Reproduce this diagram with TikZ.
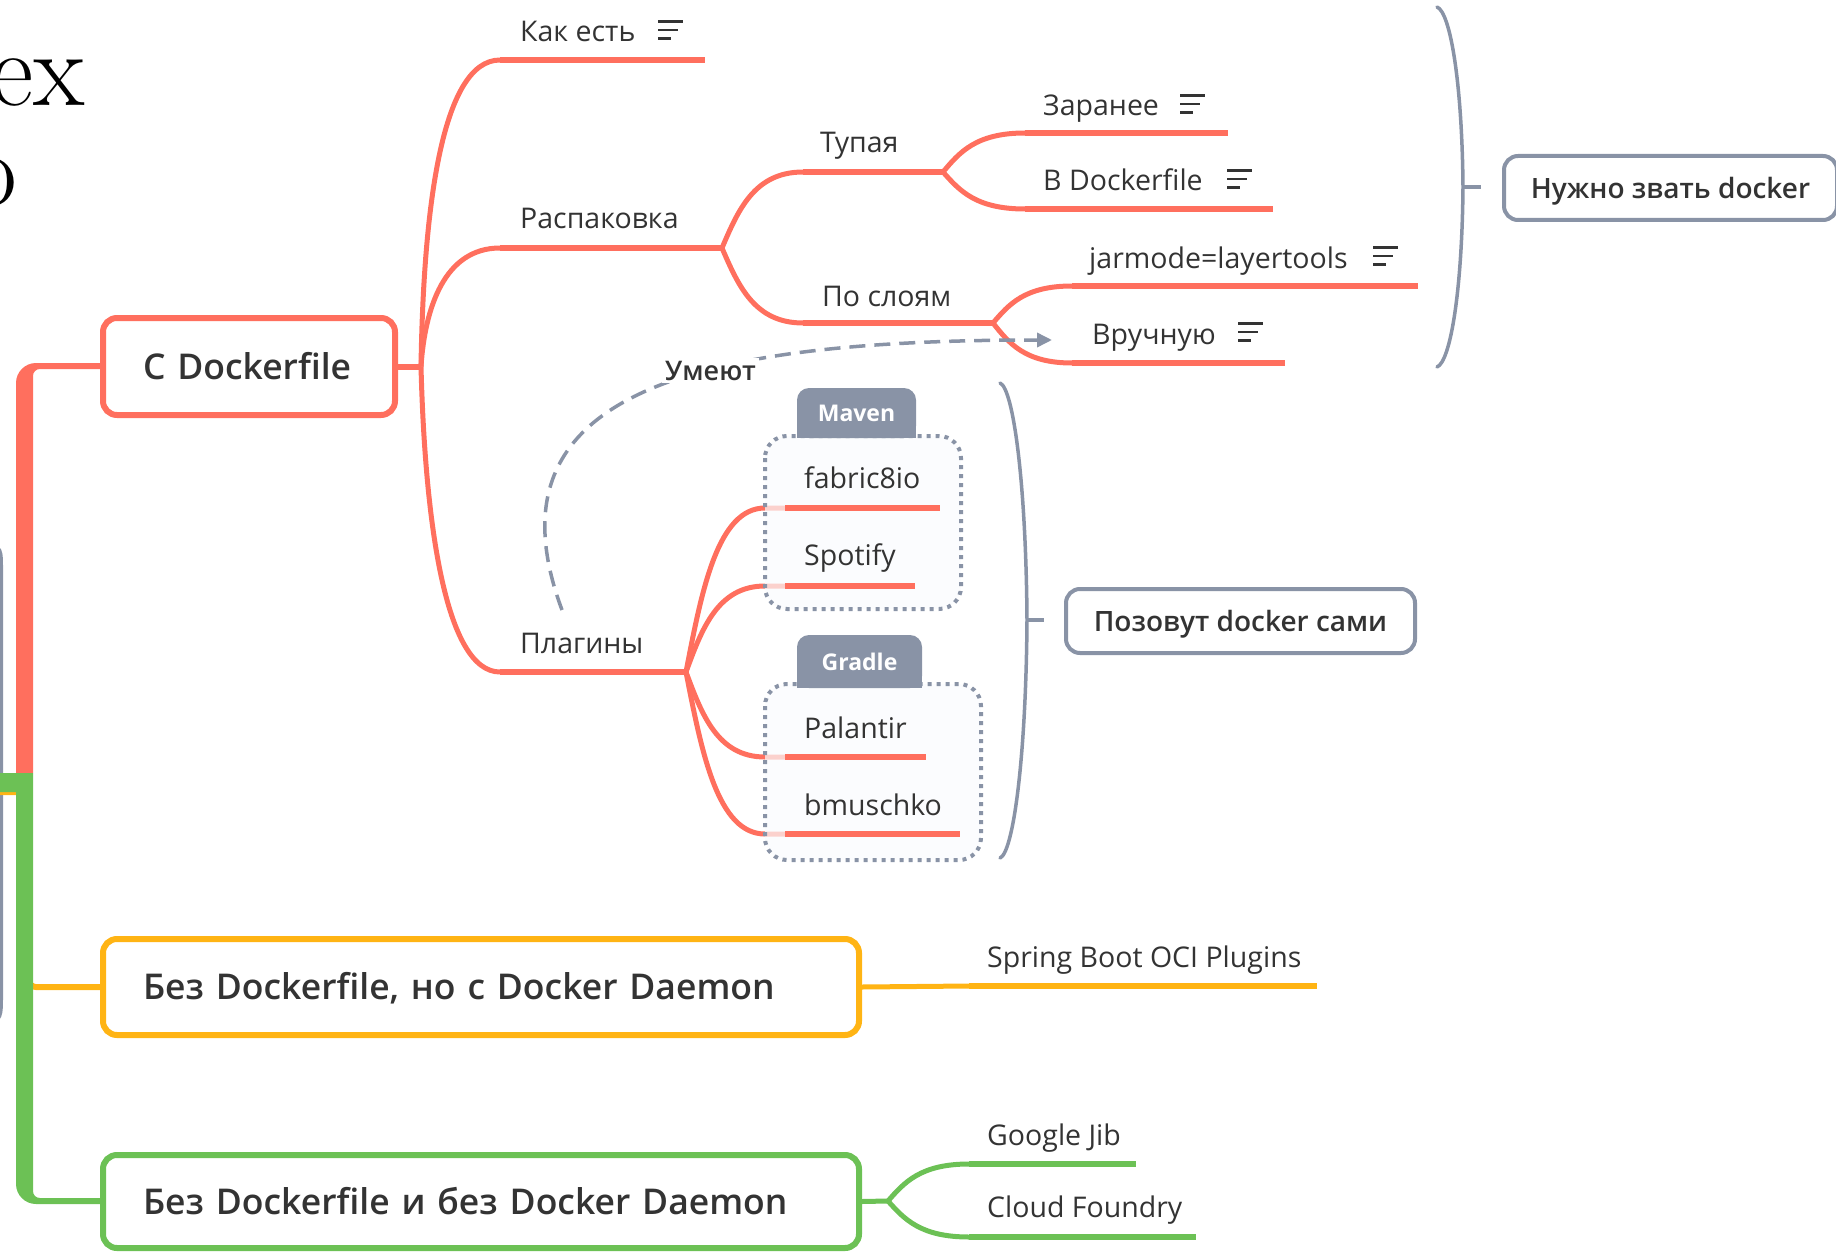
\documentclass[tikz,border=0pt]{standalone}
\usepackage{fontspec}
\newfontfamily\os{Open Sans}
\IfFontExistsTF{Open Sans SemiBold}
  {\newfontfamily\sbf{Open Sans SemiBold}\newcommand\bigsz{35.5}\newcommand\midsz{28}}
  {\IfFontExistsTF{Open Sans Semibold}
    {\newfontfamily\sbf{Open Sans Semibold}\newcommand\bigsz{35.5}\newcommand\midsz{28}}
    {\newcommand\sbf{\os\bfseries}\newcommand\bigsz{34}\newcommand\midsz{27}}}
\usetikzlibrary{arrows.meta,calc}
\definecolor{cred}{RGB}{255,111,94}
\definecolor{cyel}{RGB}{255,180,20}
\definecolor{cgrn}{RGB}{108,193,85}
\definecolor{cgray}{RGB}{137,147,166}
\definecolor{ctxt}{RGB}{51,51,51}
\definecolor{cfill}{RGB}{250,251,253}
\begin{document}
\begin{tikzpicture}[x=1pt,y=-1pt,
  every node/.style={font=\os\fontsize{28.5}{34}\selectfont, text=ctxt, inner sep=0pt},
  lbl/.style={anchor=base west},
  br/.style 2 args={to path={let \p1=(\tikztostart), \p2=(\tikztotarget) in
     .. controls ({\x1+#1*(\x2-\x1)},{\y1+0.5*(\y2-\y1)}) and ({\x1+#2*(\x2-\x1)},{\y2}) .. (\tikztotarget)}},
  conn/.style={draw=#1, line width=5},
  uline/.style={draw=#1, line width=6.5},
  bigbox/.style={draw=#1, line width=6, rounded corners=14, fill=white, inner xsep=40, inner ysep=0pt, align=left, text height=25, text depth=0, font=\sbf\fontsize{\bigsz}{42}\selectfont},
  graybox/.style={draw=cgray, line width=4, rounded corners=14, fill=white, minimum height=64, text height=21, text depth=0, font=\sbf\fontsize{\midsz}{34}\selectfont},
  noteline/.style={draw=ctxt, line width=2.6},
  noteic/.pic={\path[noteline] (0,0)--(25,0) (0,8.5)--(20,8.5) (0,17)--(13,17);},
  bracel/.style={draw=cgray, line width=3.5, line cap=round},
  grp/.style={draw=cgray, line width=4, dash pattern=on 4pt off 5pt, rounded corners=22, fill=cfill, fill opacity=.7},
  tabn/.style={fill=cgray, rounded corners=12, text=white, font=\os\bfseries\fontsize{23}{26}\selectfont},
]
\useasboundingbox (0,0) rectangle (1836,1252);
\clip (0,0) rectangle (1836,1252);

% fragments of the slide behind
\node[font=\rmfamily\fontsize{106}{120}\selectfont, text=black, anchor=base east] (frA) at (85,106) {ex};
\node[font=\rmfamily\fontsize{106}{120}\selectfont, text=black, anchor=base east] (frB) at (17,206) {o};

% left grey line
\draw[bracel, line width=3] (-2,548) .. controls (1,550) and (1.5,556) .. (1.5,565) -- (1.5,1000) .. controls (1.5,1010) and (1,1016) .. (-2,1019);

% trunks
\draw[cyel, line width=6] (0,792) -- (29,792) -- (29,980) .. controls (29,984) and (32,987) .. (36,987) -- (104,987);
\fill[cred] (16,773) -- (16,383) .. controls (16,372) and (25,363) .. (36,363) -- (104,363) -- (104,369) -- (40,369) .. controls (36,369) and (33,372) .. (33,376) -- (33,773) -- cycle;
\fill[cgrn] (0,773) -- (33,773) -- (33,1191) .. controls (33,1195) and (36,1198) .. (40,1198) -- (104,1198) -- (104,1204) -- (36,1204) .. controls (25,1204) and (16,1195) .. (16,1184) -- (16,792) -- (0,792) -- cycle;

% main boxes
\node[bigbox=cred, text width=212, minimum height=97, anchor=west] (cdf) at (100,366.5) {С Dockerfile};
\node[bigbox=cyel, text width=676, minimum height=96, anchor=west] (cy) at (100,987) {Без Dockerfile, но с Docker Daemon};
\node[bigbox=cgrn, text width=676, minimum height=93, anchor=west] (cg) at (100,1201.5) {Без Dockerfile и без Docker Daemon};

% coordinates
\coordinate (j0) at (421,366.5);
\coordinate (j1) at (722,248);
\coordinate (j2) at (943,172);
\coordinate (j3) at (686,672);
\coordinate (j4) at (993,323);
\coordinate (jg) at (888,1201);
\coordinate (ukA) at (500,60);   \coordinate (ukB) at (705,60);
\coordinate (urA) at (500,248);
\coordinate (upA) at (500,672);
\coordinate (utA) at (803,172);
\coordinate (usA) at (803,323);
\coordinate (uzA) at (1025,133);  \coordinate (uzB) at (1228,133);
\coordinate (udA) at (1025,209);  \coordinate (udB) at (1273,209);
\coordinate (ujA) at (1072,286);  \coordinate (ujB) at (1418,286);
\coordinate (uvA) at (1072,363);  \coordinate (uvB) at (1285,363);
\coordinate (cf1) at (765,508); \coordinate (uf1) at (785,508); \coordinate (uf2) at (940,508);
\coordinate (cs1) at (765,586); \coordinate (us1) at (785,586); \coordinate (us2) at (915,586);
\coordinate (cp1) at (765,757); \coordinate (up1) at (785,757); \coordinate (up2) at (926,757);
\coordinate (cb1) at (765,834); \coordinate (ub1) at (785,834); \coordinate (ub2) at (960,834);
\coordinate (uy1) at (969,986);  \coordinate (uy2) at (1317,986);
\coordinate (ug1) at (969,1164); \coordinate (ug2) at (1136,1164);
\coordinate (uc1) at (969,1237); \coordinate (uc2) at (1196,1237);

% red connectors
\draw[conn=cred, line width=6] (cdf.east) -- (j0);
\draw[conn=cred] (j0) to[br={0.03}{0.25}] (ukA);
\draw[conn=cred] (j0) to[br={0.05}{0.3}] (urA);
\draw[conn=cred] (j0) to[br={0.05}{0.3}] (upA);
\draw[conn=cred] (j1) to[br={0.2}{0.4}] (utA);
\draw[conn=cred] (j1) to[br={0.2}{0.4}] (usA);
\draw[conn=cred] (j2) to[br={0.2}{0.4}] (uzA);
\draw[conn=cred] (j2) to[br={0.2}{0.4}] (udA);
\draw[conn=cred] (j4) to[br={0.2}{0.4}] (ujA);
\draw[conn=cred] (j4) to[br={0.2}{0.4}] (uvA);
\draw[conn=cred] (j3) to[br={0.2}{0.4}] (cf1) -- (uf1);
\draw[conn=cred] (j3) to[br={0.2}{0.4}] (cs1) -- (us1);
\draw[conn=cred] (j3) to[br={0.2}{0.4}] (cp1) -- (up1);
\draw[conn=cred] (j3) to[br={0.2}{0.4}] (cb1) -- (ub1);
% yellow / green connectors
\draw[conn=cyel] (cy.east) -- (uy1);
\draw[conn=cgrn] (cg.east) -- (jg);
\draw[conn=cgrn] (jg) to[br={0.2}{0.4}] (ug1);
\draw[conn=cgrn] (jg) to[br={0.2}{0.4}] (uc1);

% groups
\path[grp] (765,436) rectangle (961,609);
\path[grp] (765,684) rectangle (981,860);
\fill[cgray] (797,413) rectangle (916,438);
\node[tabn, minimum width=119, minimum height=50] (mvn) at (856.5,413) {Maven};
\fill[cgray] (797,661) rectangle (922,688);
\node[tabn, minimum width=125, minimum height=53] (grd) at (859.5,661.5) {Gradle};

% underlines
\draw[uline=cred] (ukA) -- (ukB);
\draw[uline=cred] (urA) -- (j1);
\draw[uline=cred] (upA) -- (j3);
\draw[uline=cred] (utA) -- (j2);
\draw[uline=cred] (usA) -- (j4);
\draw[uline=cred] (uzA) -- (uzB);
\draw[uline=cred] (udA) -- (udB);
\draw[uline=cred] (ujA) -- (ujB);
\draw[uline=cred] (uvA) -- (uvB);
\draw[uline=cred] (uf1) -- (uf2);
\draw[uline=cred] (us1) -- (us2);
\draw[uline=cred] (up1) -- (up2);
\draw[uline=cred] (ub1) -- (ub2);
\draw[uline=cyel] (uy1) -- (uy2);
\draw[uline=cgrn] (ug1) -- (ug2);
\draw[uline=cgrn] (uc1) -- (uc2);

% topic texts
\node[lbl] (tk) at (520,42) {Как есть};
\node[lbl] (tr) at (520,229) {Распаковка};
\node[lbl] (tp) at (520,653) {Плагины};
\node[lbl] (tt) at (820,153) {Тупая};
\node[lbl] (ts) at (822,306) {По слоям};
\node[lbl] (tz) at (1043,116) {Заранее};
\node[lbl] (td) at (1043,191) {В Dockerfile};
\node[lbl] (tj) at (1089,268) {jarmode=layertools};
\node[lbl] (tv) at (1092,344) {Вручную};
\node[lbl] (tf) at (804,488) {fabric8io};
\node[lbl] (tsp) at (804,565) {Spotify};
\node[lbl] (tpa) at (804,738) {Palantir};
\node[lbl] (tbm) at (804,815) {bmuschko};
\node[lbl] (tso) at (987,967) {Spring Boot OCI Plugins};
\node[lbl] (tgj) at (987,1145) {Google Jib};
\node[lbl] (tcf) at (987,1217) {Cloud Foundry};

% note icons
\pic at (658,21.5) {noteic};
\pic at (1180,95.5) {noteic};
\pic at (1227,170.5) {noteic};
\pic at (1373,247.5) {noteic};
\pic at (1238,323.5) {noteic};

% summaries
\coordinate (b1t) at (1437,7); \coordinate (b1m) at (1463,187); \coordinate (b1b) at (1437,367); \coordinate (b1s) at (1481,187);
\draw[bracel] (b1t) .. controls (1450,12) and (1462,80) .. (b1m) .. controls (1462,294) and (1450,362) .. (b1b);
\draw[bracel, line cap=butt] (b1m) -- (b1s);
\node[graybox, minimum width=333, anchor=west] (nzd) at (1502,188) {Нужно звать docker};
\coordinate (b2t) at (1000,383); \coordinate (b2m) at (1027,620); \coordinate (b2b) at (1000,858); \coordinate (b2s) at (1044,620);
\draw[bracel] (b2t) .. controls (1013,388) and (1026,480) .. (b2m) .. controls (1026,760) and (1013,853) .. (b2b);
\draw[bracel, line cap=butt] (b2m) -- (b2s);
\node[graybox, minimum width=349, anchor=west] (pdz) at (1064,621) {Позовут docker сами};

% relation
\coordinate (ds) at (562,610); \coordinate (de) at (1052,340);
\draw[draw=cgray, line width=3.5, dash pattern=on 16pt off 9pt, -{Triangle[length=15pt,width=14pt]}] (ds) .. controls (480,390) and (700,340) .. (de);
\node[font=\sbf\fontsize{27}{32}\selectfont, fill=white, anchor=base west, inner sep=3pt] (umt) at (662,380) {Умеют};
\end{tikzpicture}
\end{document}
